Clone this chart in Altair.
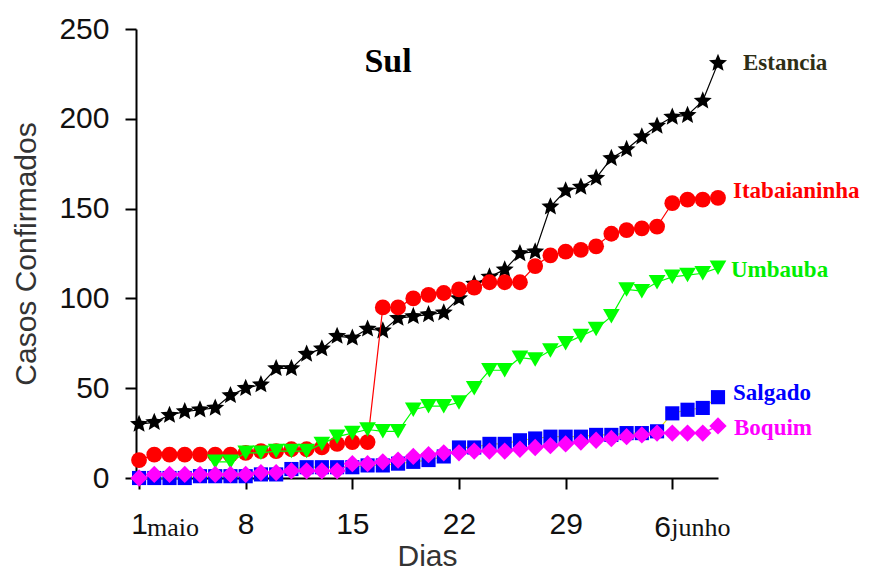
import altair as alt
import pandas as pd

# Confirmed COVID-19 cases, southern region municipalities (day 1 = 1 May)
days = list(range(1, 40))
estancia = [30, 31, 35, 37, 38, 39, 46, 50, 52, 61,
            61, 69, 72, 79, 78, 83, 82, 89, 90, 91,
            92, 100, 108, 112, 116, 125, 126, 151, 160, 162,
            167, 178, 183, 190, 196, 201, 202, 210, 231]
itabaianinha = [10, 13, 13, 13, 13, 13, 13, 14, 15, 15,
                16, 16, 17, 19, 20, 20, 95, 95, 100, 102,
                103, 105, 106, 109, 109, 109, 118, 124, 126, 127,
                129, 136, 138, 139, 140, 153, 155, 155, 156]
umbauba_days = list(range(6, 40))
umbauba = [9, 9, 14, 14, 15, 15, 15, 19, 23, 25,
           27, 26, 26, 38, 40, 40, 42, 50, 60, 60,
           67, 66, 71, 75, 79, 83, 90, 105, 104, 109,
           112, 113, 114, 117]
salgado = [0, 0, 0, 0, 1, 1, 1, 1, 2, 2,
           5, 6, 6, 6, 6, 7, 7, 8, 9, 10,
           12, 17, 17, 19, 19, 21, 22, 23, 23, 23,
           24, 24, 25, 25, 26, 36, 38, 39, 45]
boquim = [0, 2, 2, 2, 2, 2, 2, 2, 3, 3,
          4, 4, 4, 4, 8, 8, 9, 10, 12, 13,
          14, 14, 15, 15, 15, 16, 17, 18, 19, 20,
          21, 22, 23, 24, 25, 25, 25, 25, 29]

tick_days = [1, 8, 15, 22, 29, 36]
y_ticks = [0, 50, 100, 150, 200, 250]

# five-pointed star as a custom symbol path in the [-1, 1] box
STAR = ("M0,-1 L0.2645,-0.364 L0.951,-0.309 L0.428,0.139 L0.588,0.809 L0,0.45 "
        "L-0.588,0.809 L-0.428,0.139 L-0.951,-0.309 L-0.2645,-0.364 Z")

# name, days, values, marker colour, line colour, shape, size, label colour, label dx, label dy
series = [
    ("Estancia", days, estancia, "#000000", "#000000", STAR, 360, "#2e2e16", 25, 0),
    ("Itabaianinha", days, itabaianinha, "#ff0000", "#ff0000", "circle", 250, "#ff0000", 15, -7),
    ("Umbauba", umbauba_days, umbauba, "#00ff00", "#00ff00", "triangle-down", 280, "#00ee00", 13, 2),
    ("Salgado", days, salgado, "#0000ff", "#e8e800", "square", 200, "#0000ff", 15, -4),
    ("Boquim", days, boquim, "#ff00ff", "#ff00ff", "diamond", 300, "#ff00ff", 16, 2),
]

rows = []
for name, xs, ys, *_ in series:
    rows += [{"serie": name, "dia": d, "casos": c} for d, c in zip(xs, ys)]
df = pd.DataFrame(rows)

x_scale = alt.Scale(domain=[0.8, 39.0], nice=False, zero=False)
y_scale = alt.Scale(domain=[0, 250], nice=False, zero=False)

x_axis = alt.Axis(
    values=tick_days,
    labelExpr="datum.value == 36 ? '' : datum.label",
    grid=False,
    tickSize=11,
    tickWidth=2,
    domainWidth=2,
    labelPadding=20,
    titlePadding=2,
)
y_axis = alt.Axis(
    values=y_ticks,
    grid=False,
    tickSize=11,
    tickWidth=2,
    domainWidth=2,
    labelPadding=16,
    titlePadding=17,
)


def xy():
    # identical encodings in every layer so the axes merge into one pair
    return dict(
        x=alt.X("dia:Q", title="Dias", scale=x_scale, axis=x_axis),
        y=alt.Y("casos:Q", title="Casos Confirmados", scale=y_scale, axis=y_axis),
    )


layers = []
for name, xs, ys, fill, stroke, shape, size, lcol, ldx, ldy in series:
    base = alt.Chart(df).transform_filter(alt.datum.serie == name)
    layers.append(base.mark_line(color=stroke, strokeWidth=1.2).encode(**xy()))
    layers.append(
        base.mark_point(shape=shape, filled=True, size=size, color=fill, opacity=1).encode(**xy())
    )

# series names next to the last point of each curve
for name, xs, ys, fill, stroke, shape, size, lcol, ldx, ldy in series:
    lab = pd.DataFrame({"serie": [name], "dia": [xs[-1]], "casos": [ys[-1]]})
    layers.append(
        alt.Chart(lab)
        .mark_text(align="left", baseline="middle", dx=ldx, dy=ldy,
                   font="Liberation Serif", fontWeight="bold", fontSize=23, color=lcol)
        .encode(text="serie:N", **xy())
    )

# month names beside the first and last ticks
month_df = pd.DataFrame({"dia": [1, 36], "casos": [0, 0], "mes": ["maio", "junho"]})
layers.append(
    alt.Chart(month_df).transform_filter("datum.dia == 1")
    .mark_text(align="left", baseline="alphabetic", dx=8, dy=58,
               font="Liberation Serif", fontSize=26, color="#111111")
    .encode(text="mes:N", **xy())
)
layers.append(
    alt.Chart(month_df).transform_filter("datum.dia == 36")
    .mark_text(text="6", align="left", baseline="alphabetic", dx=-18, dy=59,
               font="Liberation Sans", fontSize=30, color="#111111")
    .encode(**xy())
)
layers.append(
    alt.Chart(month_df).transform_filter("datum.dia == 36")
    .mark_text(align="left", baseline="alphabetic", dx=-1, dy=58,
               font="Liberation Serif", fontSize=26, color="#111111")
    .encode(text="mes:N", **xy())
)

# panel title
layers.append(
    alt.Chart(month_df).transform_filter("datum.dia == 1")
    .mark_text(text="Sul", align="center", baseline="middle",
               font="Liberation Serif", fontWeight="bold", fontSize=34, color="#000000")
    .encode(x=alt.value(252), y=alt.value(33))
)

chart = (
    alt.layer(*layers)
    .properties(
        width=582,
        height=449,
        padding={"left": 136, "top": 29, "right": 151, "bottom": 98},
        autosize=alt.AutoSizeParams(type="none"),
        background="white",
    )
    .configure_view(stroke=None)
    .configure_axis(
        labelFont="Liberation Sans",
        labelFontSize=30,
        labelColor="#111111",
        titleFont="Liberation Sans",
        titleFontSize=30,
        titleFontWeight="normal",
        titleColor="#333333",
        domainColor="#000000",
        tickColor="#000000",
    )
)

chart.save("out.html", embed_options={"renderer": "svg", "actions": False})
